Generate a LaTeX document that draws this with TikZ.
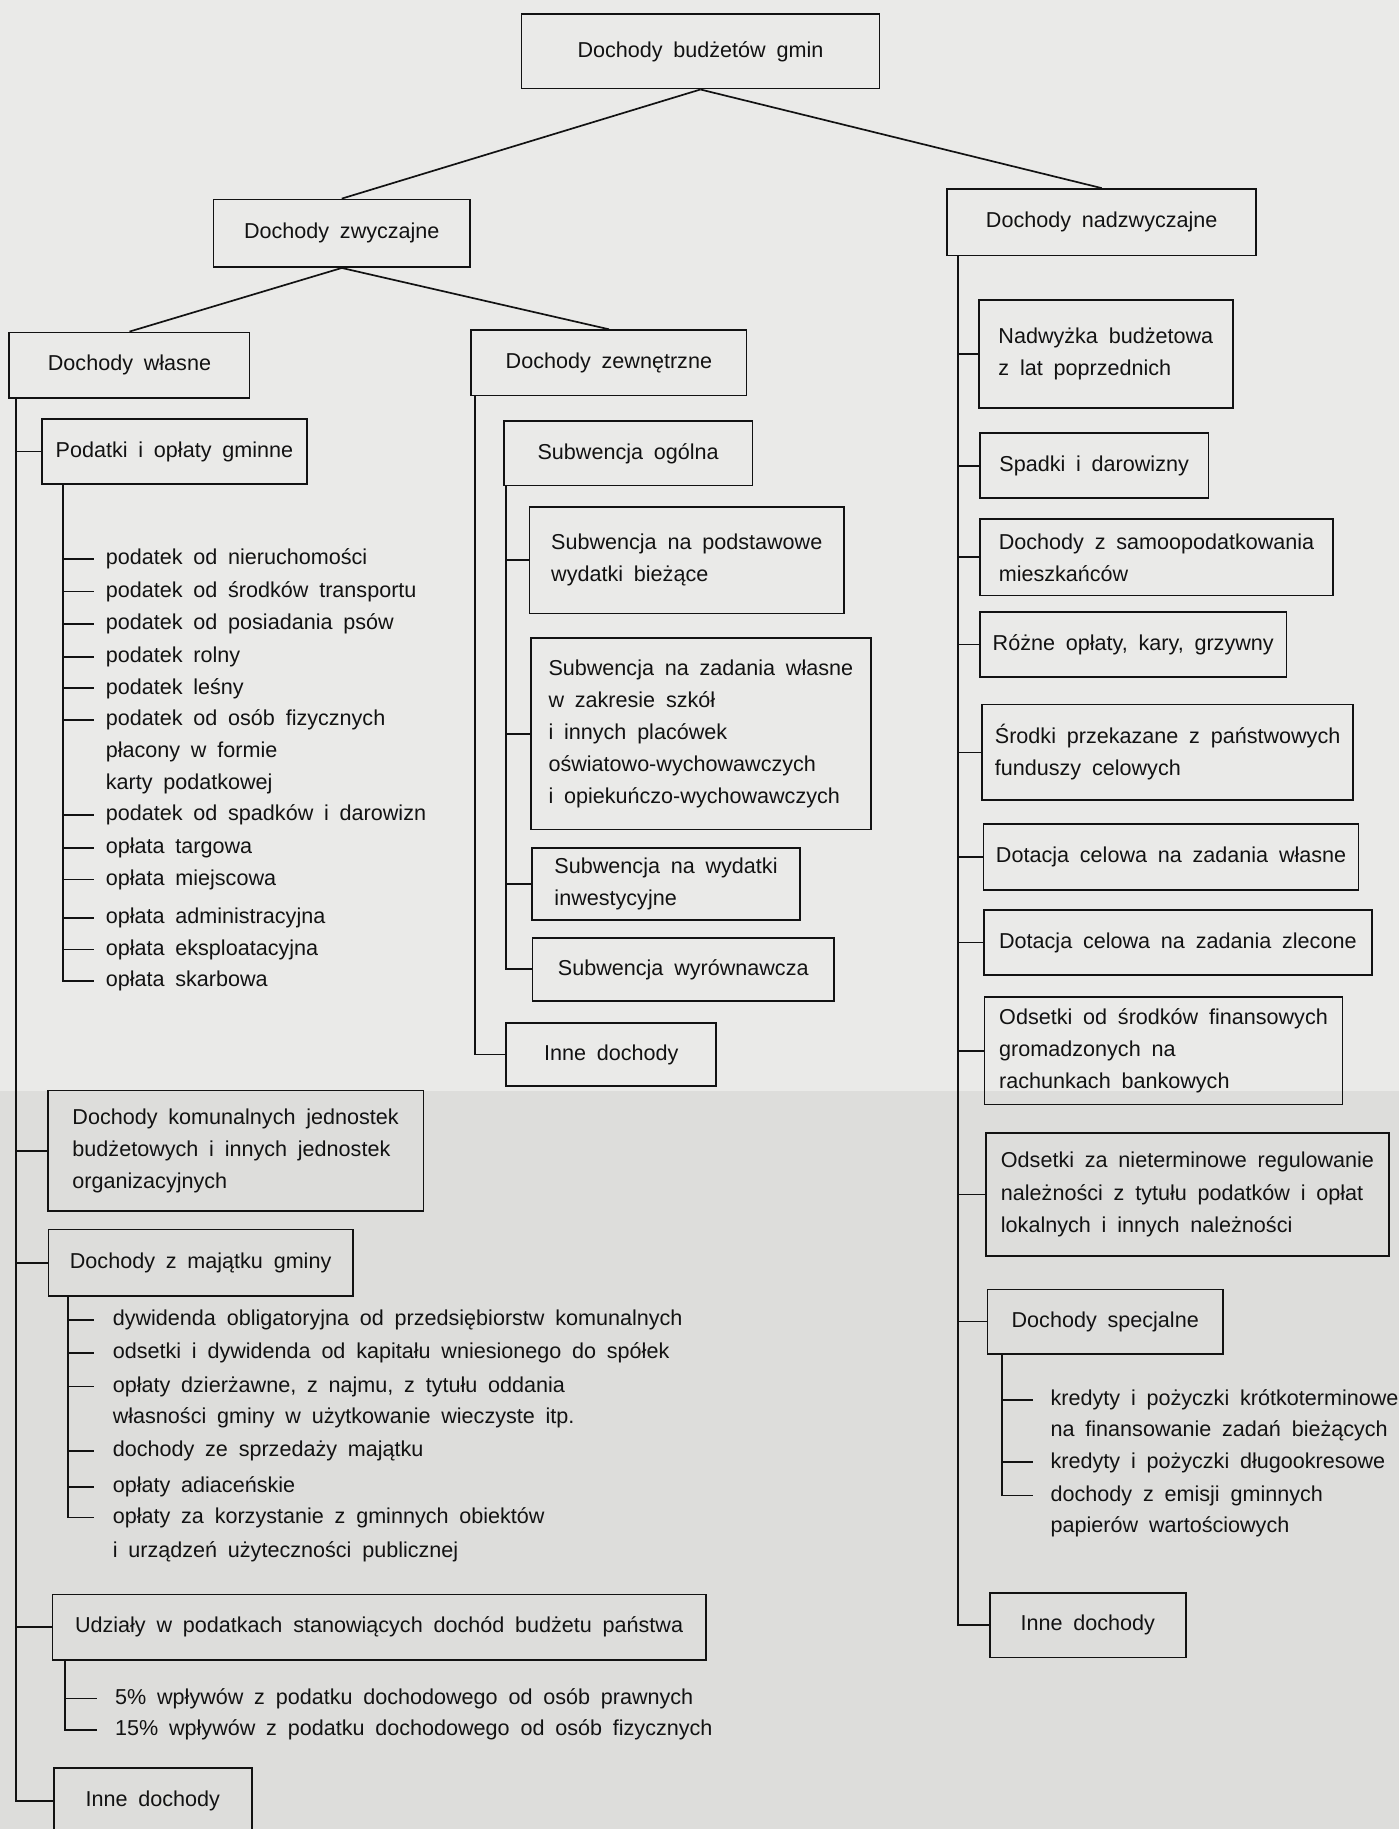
\documentclass[tikz,border=0pt]{standalone}
\usepackage{fontspec}
\setmainfont{Liberation Sans}[WordSpace=1.8]
\definecolor{paper}{RGB}{234,234,232}
\definecolor{paperdark}{RGB}{221,221,219}
\definecolor{ink}{RGB}{18,18,18}
\begin{document}
\begin{tikzpicture}[x=1pt, y=-1pt, color=ink, line width=1.45pt,
  font=\fontsize{18.5}{27.5}\selectfont,
  box/.style={draw, align=left, inner sep=0pt},
  item/.style={anchor=west, inner xsep=#1, inner ysep=0pt, text height=12pt, text depth=2pt},
  item/.default=9pt]
\fill[paper] (0,0) rectangle (1199,935);
\fill[paperdark] (0,935) rectangle (1199,1568);
\useasboundingbox (0,0) rectangle (1199,1568);
\clip (0,0) rectangle (1199,1568);

\node[box, minimum width=307, minimum height=64] (gmin) at (600.5,44) {Dochody budżetów gmin};
\node[box, minimum width=220, minimum height=58] (zwycz) at (293,200) {Dochody zwyczajne};
\node[box, minimum width=265, minimum height=57] (nadzw) at (944.5,190.5) {Dochody nadzwyczajne};
\node[box, minimum width=206, minimum height=56] (wlasne) at (111,313) {Dochody własne};
\node[box, minimum width=236, minimum height=56] (zewn) at (522,311) {Dochody zewnętrzne};

\node[box, minimum width=227, minimum height=56] (podatki) at (149.5,387) {Podatki i opłaty gminne};
\node[item] (pa1) at (81,479) {podatek od nieruchomości};
\node[item] (pa2) at (81,507) {podatek od środków transportu};
\node[item] (pa3) at (81,535) {podatek od posiadania psów};
\node[item] (pa4) at (81,563) {podatek rolny};
\node[item] (pa5) at (81,590) {podatek leśny};
\node[item] (pa6) at (81,617) {podatek od osób fizycznych};
\node[item] (pa7) at (81,644) {płacony w formie};
\node[item] (pa8) at (81,671.5) {karty podatkowej};
\node[item] (pa9) at (81,698.5) {podatek od spadków i darowizn};
\node[item] (pa10) at (81,727) {opłata targowa};
\node[item] (pa11) at (81,754) {opłata miejscowa};
\node[item] (pa12) at (81,787) {opłata administracyjna};
\node[item] (pa13) at (81,814) {opłata eksploatacyjna};
\node[item] (pa14) at (81,841) {opłata skarbowa};
\node[box, minimum width=322, minimum height=103] (komun) at (202,986.5) {Dochody komunalnych jednostek\\budżetowych i innych jednostek\\organizacyjnych};
\node[box, minimum width=261, minimum height=57] (majatek) at (172,1082.5) {Dochody z majątku gminy};
\node[item=15pt] (ma1) at (81,1131.4) {dywidenda obligatoryjna od przedsiębiorstw komunalnych};
\node[item=15pt] (ma2) at (81,1160) {odsetki i dywidenda od kapitału wniesionego do spółek};
\node[item=15pt] (ma3) at (81,1188.5) {opłaty dzierżawne, z najmu, z tytułu oddania};
\node[item=15pt] (ma4) at (81,1215.5) {własności gminy w użytkowanie wieczyste itp.};
\node[item=15pt] (ma5) at (81,1244) {dochody ze sprzedaży majątku};
\node[item=15pt] (ma6) at (81,1274.6) {opłaty adiaceńskie};
\node[item=15pt] (ma7) at (81,1301) {opłaty za korzystanie z gminnych obiektów};
\node[item=15pt] (ma8) at (81,1330) {i urządzeń użyteczności publicznej};
\node[box, minimum width=560, minimum height=56] (udzialy) at (325,1395) {Udziały w podatkach stanowiących dochód budżetu państwa};
\node[item=15pt] (ud1) at (83,1456) {5\% wpływów z podatku dochodowego od osób prawnych};
\node[item=15pt] (ud2) at (83,1483) {15\% wpływów z podatku dochodowego od osób fizycznych};
\node[box, minimum width=170, minimum height=57] (inneW) at (131,1544) {Inne dochody};

\node[box, minimum width=213, minimum height=55] (sogolna) at (538.5,388.7) {Subwencja ogólna};
\node[box, minimum width=269.5, minimum height=91.5] (spodst) at (588.75,480.25) {Subwencja na podstawowe\\wydatki bieżące};
\node[box, minimum width=291.7, minimum height=164] (szad) at (600.85,629) {Subwencja na zadania własne\\w zakresie szkół\\i innych placówek\\oświatowo-wychowawczych\\i opiekuńczo-wychowawczych};
\node[box, minimum width=230, minimum height=61.5] (sinw) at (571,757.75) {Subwencja na wydatki\\inwestycyjne};
\node[box, minimum width=258.5, minimum height=54] (swyr) at (585.75,831) {Subwencja wyrównawcza};
\node[box, minimum width=180, minimum height=54] (inneZ) at (524,904) {Inne dochody};

\node[box, minimum width=218, minimum height=93] (nadwyz) at (948,303.5) {Nadwyżka budżetowa\\z lat poprzednich};
\node[box, minimum width=196, minimum height=55.5] (spadki) at (938,399.25) {Spadki i darowizny};
\node[box, minimum width=303, minimum height=65.6] (samoop) at (991.5,477.8) {Dochody z samoopodatkowania\\mieszkańców};
\node[box, minimum width=263, minimum height=56] (rozne) at (971.5,552.6) {Różne opłaty, kary, grzywny};
\node[box, minimum width=318, minimum height=82] (srodki) at (1001,645) {Środki przekazane z państwowych\\funduszy celowych};
\node[box, minimum width=321.5, minimum height=56] (dotW) at (1004,734.7) {Dotacja celowa na zadania własne};
\node[box, minimum width=332.5, minimum height=56] (dotZ) at (1009.75,808) {Dotacja celowa na zadania zlecone};
\node[box, minimum width=307, minimum height=92.5] (odsF) at (997.5,900.75) {Odsetki od środków finansowych\\gromadzonych na\\rachunkach bankowych};
\node[box, minimum width=346, minimum height=105] (odsN) at (1018,1024) {Odsetki za nieterminowe regulowanie\\należności z tytułu podatków i opłat\\lokalnych i innych należności};
\node[box, minimum width=202, minimum height=55] (specj) at (947.5,1133) {Dochody specjalne};
\node[item=14pt] (sp1) at (886,1200) {kredyty i pożyczki krótkoterminowe};
\node[item=14pt] (sp2) at (886,1226.6) {na finansowanie zadań bieżących};
\node[item=14pt] (sp3) at (886,1253.6) {kredyty i pożyczki długookresowe};
\node[item=14pt] (sp4) at (886,1282) {dochody z emisji gminnych};
\node[item=14pt] (sp5) at (886,1309) {papierów wartościowych};
\node[box, minimum width=168, minimum height=55.5] (inneN) at (932.5,1393.3) {Inne dochody};

\coordinate (wTop) at (14,341);
\coordinate (pTop) at (54,415);
\coordinate (mTop) at (58,1111);
\coordinate (uTop) at (56,1423);
\coordinate (zTop) at (407,339);
\coordinate (oTop) at (434,416.2);
\coordinate (nTop) at (821,219);
\coordinate (sTop) at (859,1160.5);

\draw (gmin.south) -- (zwycz.north);
\draw (gmin.south) -- (nadzw.north);
\draw (zwycz.south) -- (wlasne.north);
\draw (zwycz.south) -- (zewn.north);

\draw (wTop) |- (inneW.west);
\draw (wTop |- podatki.west) -- (podatki.west);
\draw (wTop |- komun.west) -- (komun.west);
\draw (wTop |- majatek.west) -- (majatek.west);
\draw (wTop |- udzialy.west) -- (udzialy.west);

\draw (pTop) |- (pa14.west);
\draw (pTop |- pa1.west) -- (pa1.west);
\draw (pTop |- pa2.west) -- (pa2.west);
\draw (pTop |- pa3.west) -- (pa3.west);
\draw (pTop |- pa4.west) -- (pa4.west);
\draw (pTop |- pa5.west) -- (pa5.west);
\draw (pTop |- pa6.west) -- (pa6.west);
\draw (pTop |- pa9.west) -- (pa9.west);
\draw (pTop |- pa10.west) -- (pa10.west);
\draw (pTop |- pa11.west) -- (pa11.west);
\draw (pTop |- pa12.west) -- (pa12.west);
\draw (pTop |- pa13.west) -- (pa13.west);

\draw (mTop) |- (ma7.west);
\draw (mTop |- ma1.west) -- (ma1.west);
\draw (mTop |- ma2.west) -- (ma2.west);
\draw (mTop |- ma3.west) -- (ma3.west);
\draw (mTop |- ma5.west) -- (ma5.west);
\draw (mTop |- ma6.west) -- (ma6.west);

\draw (uTop) |- (ud2.west);
\draw (uTop |- ud1.west) -- (ud1.west);

\draw (zTop) |- (inneZ.west);
\draw (oTop) |- (swyr.west);
\draw (oTop |- spodst.west) -- (spodst.west);
\draw (oTop |- szad.west) -- (szad.west);
\draw (oTop |- sinw.west) -- (sinw.west);

\draw (nTop) |- (inneN.west);
\draw (nTop |- nadwyz.west) -- (nadwyz.west);
\draw (nTop |- spadki.west) -- (spadki.west);
\draw (nTop |- samoop.west) -- (samoop.west);
\draw (nTop |- rozne.west) -- (rozne.west);
\draw (nTop |- srodki.west) -- (srodki.west);
\draw (nTop |- dotW.west) -- (dotW.west);
\draw (nTop |- dotZ.west) -- (dotZ.west);
\draw (nTop |- odsF.west) -- (odsF.west);
\draw (nTop |- odsN.west) -- (odsN.west);
\draw (nTop |- specj.west) -- (specj.west);

\draw (sTop) |- (sp4.west);
\draw (sTop |- sp1.west) -- (sp1.west);
\draw (sTop |- sp3.west) -- (sp3.west);
\end{tikzpicture}
\end{document}
